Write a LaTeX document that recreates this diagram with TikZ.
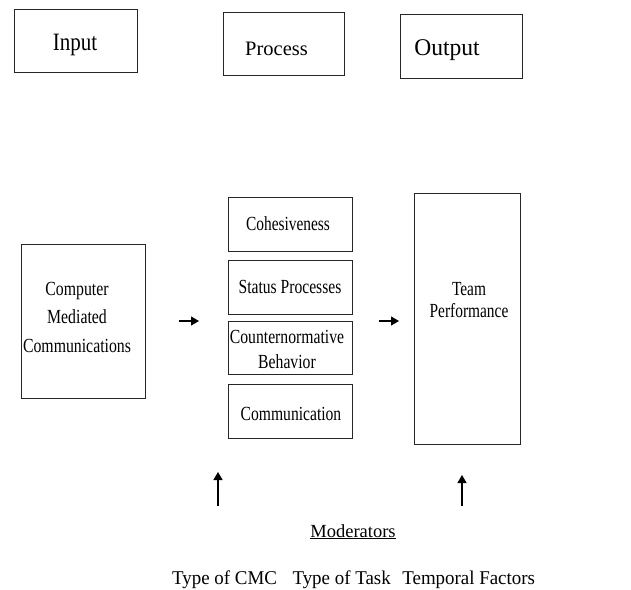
\documentclass[tikz,border=0pt]{standalone}
\usepackage{fontspec}
\setmainfont{Liberation Serif}
\usetikzlibrary{arrows.meta}
\newcommand\condtext[2]{\scalebox{#1}[1]{\begin{tabular}[b]{@{}c@{}}#2\end{tabular}}}
\tikzset{
  box/.style={draw=black!85, line width=1pt, inner sep=0pt, rectangle},
  lbl/.style={inner sep=0pt, align=center, anchor=base},
  arr/.style={line width=1.2pt, -{Triangle[length=8pt,width=9pt]}},
  boxfont/.style={font=\fontsize{20}{22}\selectfont},
  botfont/.style={font=\fontsize{19.5}{22}\selectfont}
}
\begin{document}
\begin{tikzpicture}[x=1pt,y=-1pt]
\useasboundingbox[fill=white] (0,0) rectangle (631,589);

% header boxes
\node[box, minimum width=123pt, minimum height=63pt] (input) at (75.5,40.5) {};
\node[lbl, font=\fontsize{25}{28}\selectfont] (inputT) at (75,50) {\condtext{0.84}{Input}};
\node[box, minimum width=121pt, minimum height=63pt] (process) at (283.5,43.5) {};
\node[lbl, font=\fontsize{20.5}{24}\selectfont] (processT) at (276.5,55) {Process};
\node[box, minimum width=122pt, minimum height=64pt] (output) at (461,46) {};
\node[lbl, font=\fontsize{24}{28}\selectfont] (outputT) at (447,55) {\condtext{0.98}{Output}};

% input box
\node[box, minimum width=124pt, minimum height=154pt] (cmc) at (83,321) {};
\node[lbl, font=\fontsize{20}{28.5}\selectfont] (cmcT) at (77,352) {\condtext{0.79}{Computer\\Mediated\\Communications}};

% process boxes
\node[box, minimum width=124pt, minimum height=54pt] (coh) at (290,224) {};
\node[lbl, boxfont] (cohT) at (288,230) {\condtext{0.77}{Cohesiveness}};
\node[box, minimum width=124pt, minimum height=54pt] (stat) at (290,287) {};
\node[lbl, boxfont] (statT) at (290,293) {\condtext{0.78}{Status Processes}};
\node[box, minimum width=124pt, minimum height=53pt] (cnb) at (290,347.5) {};
\node[lbl, font=\fontsize{20}{25}\selectfont] (cnbT) at (287,368) {\condtext{0.785}{Counternormative\\Behavior}};
\node[box, minimum width=124pt, minimum height=54pt] (comm) at (290,411) {};
\node[lbl, boxfont] (commT) at (291,420) {\condtext{0.78}{Communication}};

% output box
\node[box, minimum width=106pt, minimum height=251pt] (team) at (467,318.5) {};
\node[lbl, boxfont] (teamT) at (469,317) {\condtext{0.77}{Team\\Performance}};

% horizontal arrows
\coordinate (a1s) at (179,321);
\coordinate (a1e) at (199,321);
\coordinate (a2s) at (379,321);
\coordinate (a2e) at (399,321);
\draw[arr] (a1s) -- (a1e);
\draw[arr] (a2s) -- (a2e);

% vertical arrows
\coordinate (v1s) at (218,506);
\coordinate (v1e) at (218,472);
\coordinate (v2s) at (462,506);
\coordinate (v2e) at (462,475);
\draw[arr] (v1s) -- (v1e);
\draw[arr] (v2s) -- (v2e);

% moderators
\node[lbl, font=\fontsize{18.5}{22}\selectfont] (mod) at (353,537) {\underline{Moderators}};
\node[lbl, botfont, anchor=base west] (modlist) at (172,584) {\scalebox{0.97}[1]{Type of CMC\hspace{16pt}Type of Task\hspace{12pt}Temporal Factors}};
\end{tikzpicture}
\end{document}
